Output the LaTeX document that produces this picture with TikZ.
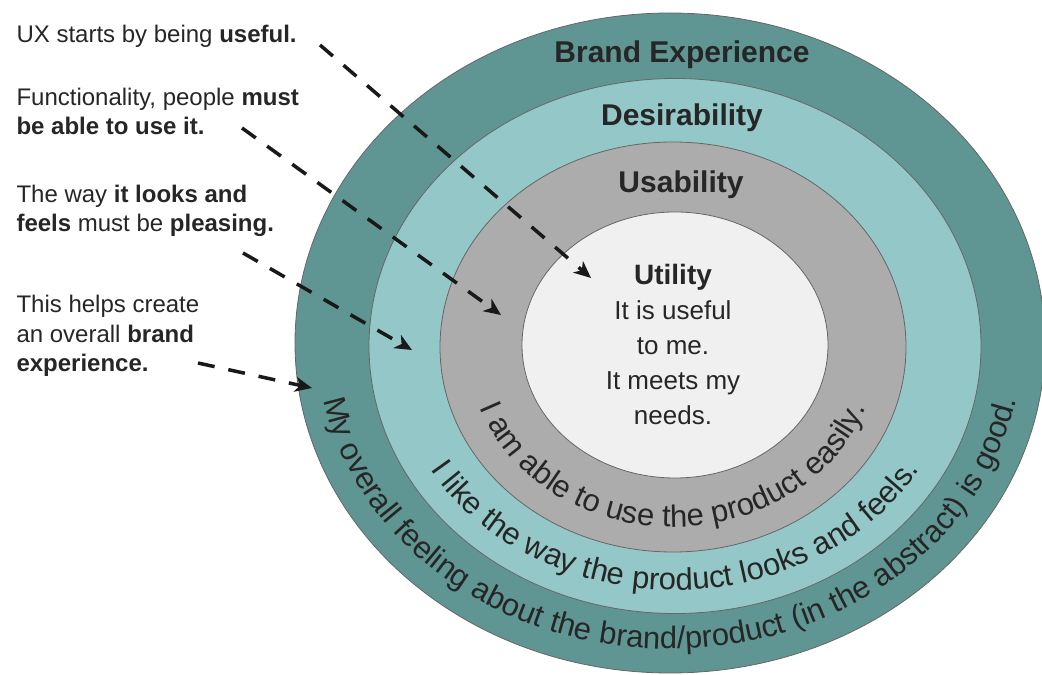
\documentclass[tikz,border=0pt]{standalone}
\usepackage{fontspec}
\setmainfont{Liberation Sans}
\usetikzlibrary{arrows.meta,decorations.text,shapes.geometric}

\definecolor{brandcol}{HTML}{5F9693}
\definecolor{desirecol}{HTML}{94C8C8}
\definecolor{usecol}{HTML}{ACACAC}
\definecolor{utilcol}{HTML}{F0F0F0}
\definecolor{inkcol}{HTML}{262626}

\tikzset{
  ring/.style={ellipse, draw=black!60, line width=0.8pt, inner sep=0pt},
  heading/.style={font=\fontsize{30}{30}\selectfont\bfseries, text=inkcol, anchor=base},
  note/.style={font=\fontsize{24}{29.5}\selectfont, text=inkcol, align=left, anchor=base west},
  pointer/.style={line width=3.5pt, dash pattern=on 17pt off 14pt, black!90,
    -{Stealth[length=17pt,width=15pt,inset=5pt]}},
}

\begin{document}
\begin{tikzpicture}[x=1pt,y=1pt]
\useasboundingbox (0,0) rectangle (1042,675);

\node[ring, fill=brandcol, minimum width=750, minimum height=660] (brand) at (670,332) {};
\node[ring, fill=desirecol, minimum width=612, minimum height=535] (desire) at (675,329) {};
\node[ring, fill=usecol, minimum width=466, minimum height=410] (usable) at (673,328) {};
\node[ring, fill=utilcol, minimum width=306, minimum height=266] (utility) at (675,330) {};

\node[heading] (brandlbl) at (682,612) {Brand Experience};
\node[heading] (desirelbl) at (682,549) {Desirability};
\node[heading] (usablelbl) at (681,482) {Usability};
% base of a multi-line node is its last line
\node[font=\fontsize{26}{35}\selectfont, text=inkcol, align=center, anchor=base] (utilitylbl) at (673,250)
  {{\fontsize{28}{35}\selectfont\bfseries Utility}\\It is useful\\to me.\\It meets my\\needs.};

\path[decorate, decoration={text along path, text color=inkcol, text align=center,
  text={|\fontsize{31}{31}\selectfont|I am able to use the product easily.}}]
  ([shift={(185:205 and 180)}]usable.center) arc[start angle=185, end angle=355, x radius=205, y radius=180];
\path[decorate, decoration={text along path, text color=inkcol, text align=center,
  text={|\fontsize{31}{31}\selectfont|I like the way the product looks and feels.}}]
  ([shift={(185:284 and 244)}]desire.center) arc[start angle=185, end angle=355, x radius=284, y radius=244];
\path[decorate, decoration={text along path, text color=inkcol, text align=center,
  text={|\fontsize{31}{31}\selectfont|My overall feeling about the brand/product (in the abstract) is good.}}]
  ([shift={(182:352 and 306)}]brand.center) arc[start angle=182, end angle=358, x radius=352, y radius=306];

\node[note] (useful) at (13,632) {UX starts by being \textbf{useful.}};
\node[note] (able) at (13,540) {Functionality, people \textbf{must}\\\textbf{be able to use it.}};
\node[note] (looks) at (13,443) {The way \textbf{it looks and}\\\textbf{feels} must be \textbf{pleasing.}};
\node[note] (overall) at (13,303) {This helps create\\an overall \textbf{brand}\\\textbf{experience.}};

\coordinate (usefulfrom) at (320,630);
\coordinate (usefulto) at (591,397);
\coordinate (ablefrom) at (242,547);
\coordinate (ableto) at (501,360);
\coordinate (looksfrom) at (243,422);
\coordinate (looksto) at (412,325);
\coordinate (overallfrom) at (198,312);
\coordinate (overallto) at (312,287);

\draw[pointer] (usefulfrom) -- (usefulto);
\draw[pointer] (ablefrom) -- (ableto);
\draw[pointer] (looksfrom) -- (looksto);
\draw[pointer] (overallfrom) -- (overallto);
\end{tikzpicture}
\end{document}
